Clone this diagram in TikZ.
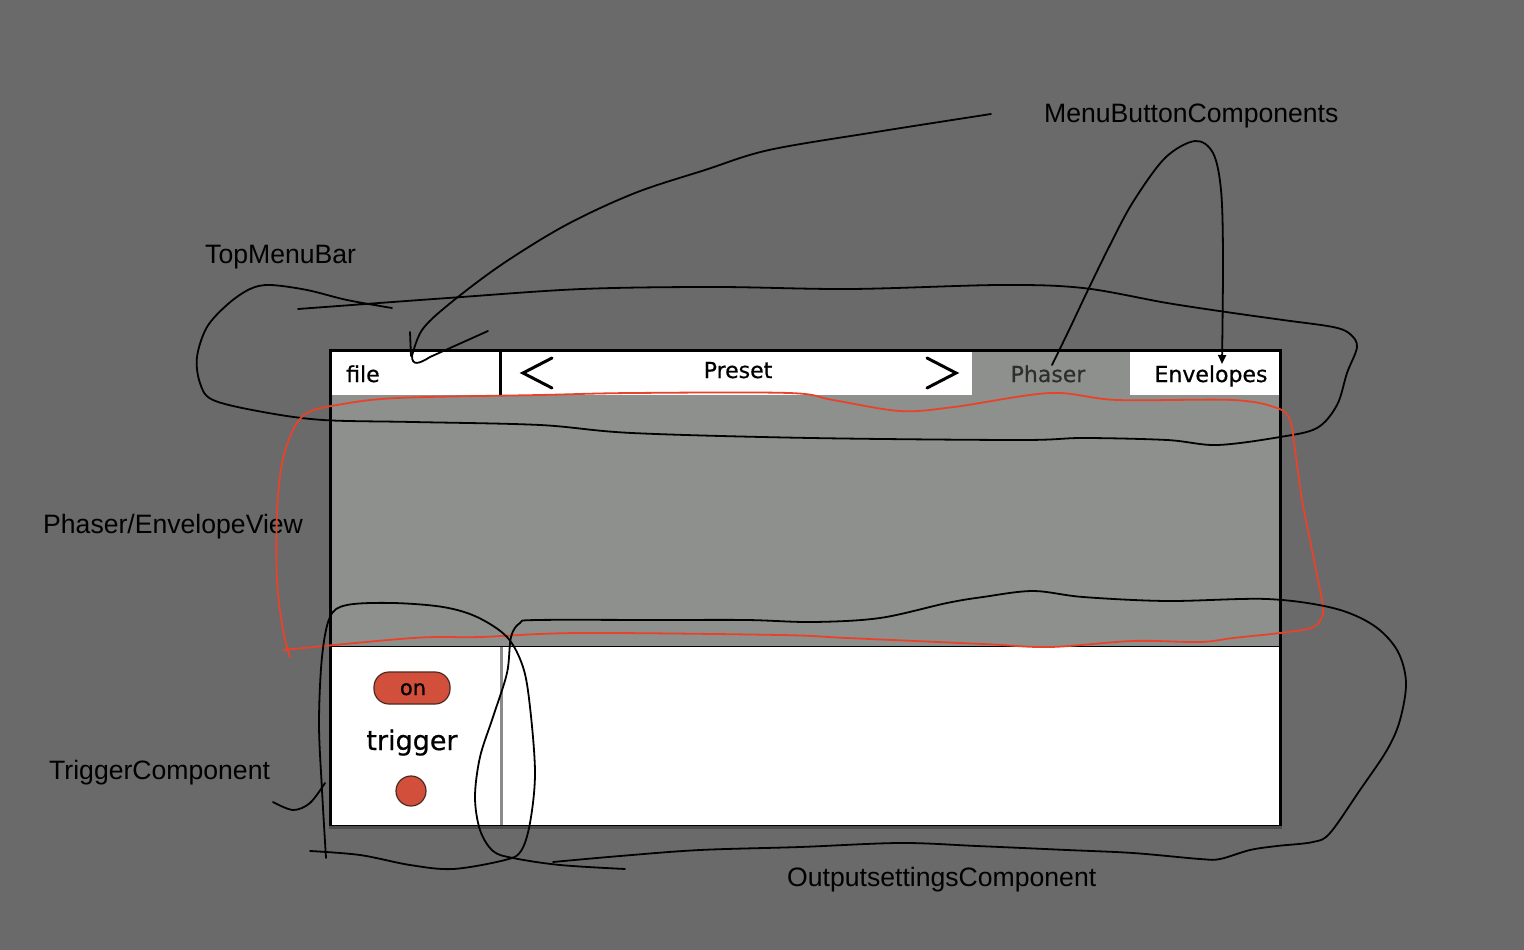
\documentclass[tikz,border=0pt]{standalone}
\usepackage{fontspec}
\setmainfont{Liberation Sans}
\newfontfamily\uifont[FakeBold=0.6]{DejaVu Sans}
\usetikzlibrary{arrows.meta}
\definecolor{bg}{HTML}{6A6A6A}
\definecolor{viewgray}{HTML}{8E908E}
\definecolor{btnred}{HTML}{D2503B}
\definecolor{btnedge}{HTML}{4A2A22}
\definecolor{sketchred}{HTML}{E8432A}
\definecolor{divgray}{HTML}{8A8A8A}
\definecolor{phasertext}{HTML}{2E2E2E}
\tikzset{
  lbl/.style={font=\fontsize{26.6}{30}\selectfont, text=black, inner sep=0pt, anchor=base west},
  ui/.style={font=\uifont\fontsize{22}{26}\selectfont, text=black, inner sep=0pt, anchor=base},
  sketch/.style={line width=1.8pt, black, line cap=round, line join=round},
  redsketch/.style={line width=1.8pt, sketchred, line cap=round, line join=round},
  chevron/.style={line width=3pt, black, line cap=round, line join=miter},
}
\begin{document}
\begin{tikzpicture}[x=1pt,y=-1pt]
\useasboundingbox (0,0) rectangle (1524,950);
\fill[bg] (0,0) rectangle (1524,950);

% panel
\fill[black] (329,349) rectangle (1282,828);
\fill[black!70] (329,826) rectangle (1282,829);
\fill[white] (332,352) rectangle (1279,395);
\fill[black] (499,352) rectangle (502,395);
\fill[viewgray] (972,352) rectangle (1130,395);
\fill[viewgray] (332,395) rectangle (1279,646);
\fill[white] (332,647) rectangle (1279,825);
\fill[divgray] (500,647) rectangle (503,825);

% top bar texts
\node[ui, anchor=base west] (file) at (346,382) {file};
\node[ui] (preset) at (738,378) {Preset};
\node[ui, text=phasertext] (phaser) at (1048,382) {Phaser};
\node[ui] (envelopes) at (1211,382) {Envelopes};
\draw[chevron] (552,358) -- (523,373) -- (552,388);
\draw[chevron] (927,358) -- (956,373) -- (927,388);

% trigger component
\node[draw=btnedge, fill=btnred, line width=1.2pt, rounded corners=15pt,
      minimum width=76pt, minimum height=32pt, inner sep=0pt] (onbtn) at (412,688) {};
\node[ui, font=\uifont\fontsize{21}{24}\selectfont] (ontext) at (413,695) {on};
\node[ui, font=\uifont\fontsize{27}{30}\selectfont] (trigger) at (412,750) {trigger};
\node[circle, draw=btnedge, fill=btnred, line width=1.2pt, minimum size=30pt, inner sep=0pt] (trigdot) at (411,791) {};

% labels
\node[lbl] (mbc) at (1044,122) {MenuButtonComponents};
\node[lbl] (tmb) at (205,263) {TopMenuBar};
\node[lbl] (pev) at (43,533) {Phaser/EnvelopeView};
\node[lbl] (tc) at (49,779) {TriggerComponent};
\node[lbl] (osc) at (787,886) {OutputsettingsComponent};

% TopMenuBar loop
\draw[sketch] plot[smooth, tension=0.55] coordinates {
 (392,308) (347,300) (307,290) (270,285) (250,289) (228,304) (207,327) (197,357) (200,383)
 (213,400) (263,412) (323,420) (413,422) (540,425) (632,433) (811,438) (1020,440)
 (1083,438) (1167,440) (1217,445) (1280,437) (1317,428) (1337,405) (1347,373) (1357,347)
 (1350,334) (1333,327) (1283,320) (1233,313) (1167,303) (1083,288) (1000,285) (850,289)
 (716,287) (582,289) (448,298) (298,309)};

% long stroke to file
\coordinate (hookend) at (412,356);
\draw[sketch] plot[smooth, tension=0.55] coordinates {
 (991,114) (876,132) (769,150) (705,170) (635,193) (566,225) (501,265) (448,305) (422,330) (hookend)};
\draw[sketch] (hookend) .. controls (412,366) and (419,364) .. (430,357) -- (488,331);
\draw[sketch] (410,332) -- (411,356);

% MenuButtonComponents arrow
\coordinate (envtip) at (1222,364);
\draw[sketch, -{Triangle[length=9pt,width=8pt]}] plot[smooth, tension=0.55] coordinates {
 (1052,365) (1070,328) (1087,292) (1110,245) (1133,202) (1165,158) (1195,141) (1213,153)
 (1221,190) (1223,257) (envtip)};

% Phaser/EnvelopeView red loop
\draw[redsketch] plot[smooth, tension=0.55] coordinates {
 (290,657) (283,630) (277,580) (277,513) (282,463) (293,430) (307,413) (337,405) (397,398)
 (540,395) (632,393) (789,393) (833,400) (900,411) (954,407) (1050,393) (1117,400)
 (1233,400) (1277,408) (1290,420) (1295,450) (1302,500) (1310,540) (1317,575) (1323,607)
 (1321,619) (1311,628) (1280,633) (1233,638) (1200,642) (1133,641) (1050,647) (983,644)
 (847,638) (780,635) (580,633) (480,637) (413,638) (283,650)};

% TriggerComponent loop
\draw[sketch] plot[smooth, tension=0.55] coordinates {
 (326,858) (322,790) (319,723) (322,657) (330,617) (347,605) (393,603) (443,607) (477,617)
 (507,637) (523,667) (530,707) (535,773) (530,823) (521,851) (505,860) (453,869) (410,865)
 (360,855) (310,851)};
\draw[sketch] plot[smooth, tension=0.55] coordinates {(273,802) (293,810) (310,803) (325,783)};

% OutputsettingsComponent loop
\draw[sketch] plot[smooth, tension=0.55] coordinates {
 (625,869) (560,865) (513,858) (493,851) (480,830) (475,797) (480,757) (493,717) (507,673)
 (511,637) (520,623) (537,620) (660,620) (747,620) (813,622) (880,618) (947,603) (983,597)
 (1033,591) (1083,597) (1167,601) (1267,599) (1333,608) (1373,625) (1397,650) (1406,682)
 (1400,720) (1387,750) (1360,790) (1330,833) (1313,842) (1277,846) (1250,850) (1220,859)
 (1200,859) (1133,853) (1067,850) (977,846) (900,843) (800,847) (700,850) (620,856) (553,862)};
\end{tikzpicture}
\end{document}
